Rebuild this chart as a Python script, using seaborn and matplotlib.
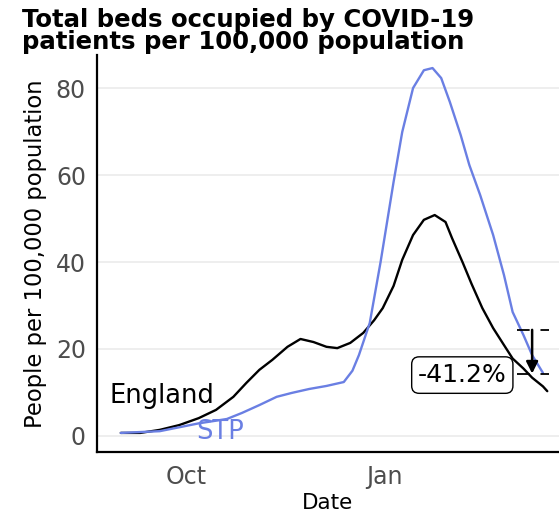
import numpy as np
import pandas as pd
import matplotlib
matplotlib.use("Agg")
import matplotlib.pyplot as plt
import matplotlib.dates as mdates
import seaborn as sns

# values (people per 100,000)
eng_dates = ["2020-09-01", "2020-09-10", "2020-09-19", "2020-09-28", "2020-10-07",
             "2020-10-15", "2020-10-23", "2020-10-29", "2020-11-04", "2020-11-10",
             "2020-11-17", "2020-11-23", "2020-11-29", "2020-12-05", "2020-12-10",
             "2020-12-16", "2020-12-22", "2020-12-27", "2020-12-31", "2021-01-05",
             "2021-01-09", "2021-01-14", "2021-01-19", "2021-01-24", "2021-01-29",
             "2021-02-01", "2021-02-06", "2021-02-10", "2021-02-15", "2021-02-20",
             "2021-02-25", "2021-03-01", "2021-03-06", "2021-03-10", "2021-03-15",
             "2021-03-17"]
eng_vals = [0.7, 0.7, 1.4, 2.5, 4.1,
            6.0, 9.0, 12.2, 15.2, 17.5,
            20.5, 22.3, 21.6, 20.5, 20.2,
            21.4, 23.7, 26.6, 29.4, 34.5,
            40.5, 46.2, 49.7, 50.8, 49.2,
            45.5, 39.8, 35.0, 29.4, 24.8,
            20.9, 17.8, 15.5, 13.4, 11.4,
            10.3]

stp_dates = ["2020-09-01", "2020-09-19", "2020-09-28", "2020-10-07", "2020-10-20",
             "2020-10-27", "2020-11-04", "2020-11-12", "2020-11-19", "2020-11-27",
             "2020-12-05", "2020-12-13", "2020-12-17", "2020-12-20", "2020-12-25",
             "2020-12-30", "2021-01-05", "2021-01-09", "2021-01-14", "2021-01-19",
             "2021-01-23", "2021-01-27", "2021-01-31", "2021-02-05", "2021-02-09",
             "2021-02-14", "2021-02-20", "2021-02-25", "2021-03-01", "2021-03-06",
             "2021-03-10", "2021-03-15"]
stp_vals = [0.7, 1.1, 2.0, 2.9, 3.9,
            5.3, 7.1, 9.0, 9.9, 10.8,
            11.5, 12.4, 15.0, 18.6, 26.0,
            40.0, 58.4, 69.9, 80.0, 84.1,
            84.6, 82.3, 76.8, 69.2, 62.3,
            55.4, 46.2, 37.0, 28.5, 23.2,
            18.6, 14.5]

change_from = 24.4
change_to = 14.35
change_label = "-41.2%"

df = pd.concat([
    pd.DataFrame({"Date": pd.to_datetime(eng_dates), "value": eng_vals, "area": "England"}),
    pd.DataFrame({"Date": pd.to_datetime(stp_dates), "value": stp_vals, "area": "STP"}),
])

blue = "#6a7fe3"
sns.set_style("white")
plt.rcParams["font.family"] = ["DejaVu Sans"]
plt.rcParams["text.color"] = "black"
plt.rcParams["axes.labelcolor"] = "black"

fig = plt.figure(figsize=(5.59, 5.19), dpi=100)
ax = fig.add_axes([0.1735, 0.129, 0.8265, 0.765])

ax.yaxis.grid(True, color="#ebebeb", linewidth=1.2)
ax.set_axisbelow(True)

sns.lineplot(data=df, x="Date", y="value", hue="area",
             palette={"England": "black", "STP": blue},
             linewidth=1.7, legend=False, ax=ax)

ax.set_xlim(pd.Timestamp("2020-08-21"), pd.Timestamp("2021-03-22 10:00"))
ax.set_ylim(-3.7, 87.6)
ax.set_yticks([0, 20, 40, 60, 80])
ax.set_xticks([pd.Timestamp("2020-10-01"), pd.Timestamp("2021-01-01")])
ax.xaxis.set_major_formatter(mdates.DateFormatter("%b"))

for s in ["top", "right"]:
    ax.spines[s].set_visible(False)
for s in ["left", "bottom"]:
    ax.spines[s].set_color("black")
    ax.spines[s].set_linewidth(1.6)
ax.tick_params(axis="both", which="major", length=5, width=1.4, color="black",
               labelsize=17, labelcolor="#4d4d4d", direction="out")
ax.tick_params(axis="x", pad=4)
ax.tick_params(axis="y", pad=3)

ax.set_xlabel("Date", fontsize=15.5, labelpad=3)
ax.set_ylabel("People per 100,000 population", fontsize=16.3, labelpad=6)

fig.text(0.039, 0.985, "Total beds occupied by COVID-19\npatients per 100,000 population",
         fontsize=17.6, fontweight="bold", color="black", ha="left", va="top",
         linespacing=0.88)

ax.text(pd.Timestamp("2020-08-27"), 9.2, "England", fontsize=18.5, color="black",
        ha="left", va="center")
ax.text(pd.Timestamp("2020-10-06"), 0.9, "STP", fontsize=18.5, color=blue,
        ha="left", va="center")

# change annotation
x0, x1 = pd.Timestamp("2021-03-03"), pd.Timestamp("2021-03-18")
ax.hlines([change_from, change_to], x0, x1, colors="black", linestyles=(0, (7, 6)),
          linewidth=1.3)
xa = pd.Timestamp("2021-03-10")
ax.annotate("", xy=(xa, change_to), xytext=(xa, change_from),
            arrowprops=dict(arrowstyle="-|>,head_width=0.35,head_length=0.7",
                            color="black", lw=1.8, shrinkA=0, shrinkB=0))
ax.text(pd.Timestamp("2021-02-05 18:00"), 14.0, change_label, fontsize=18,
        ha="center", va="center",
        bbox=dict(boxstyle="round,pad=0.25,rounding_size=0.3", fc="white", ec="black", lw=1))

fig.savefig("out.png", dpi=100)
